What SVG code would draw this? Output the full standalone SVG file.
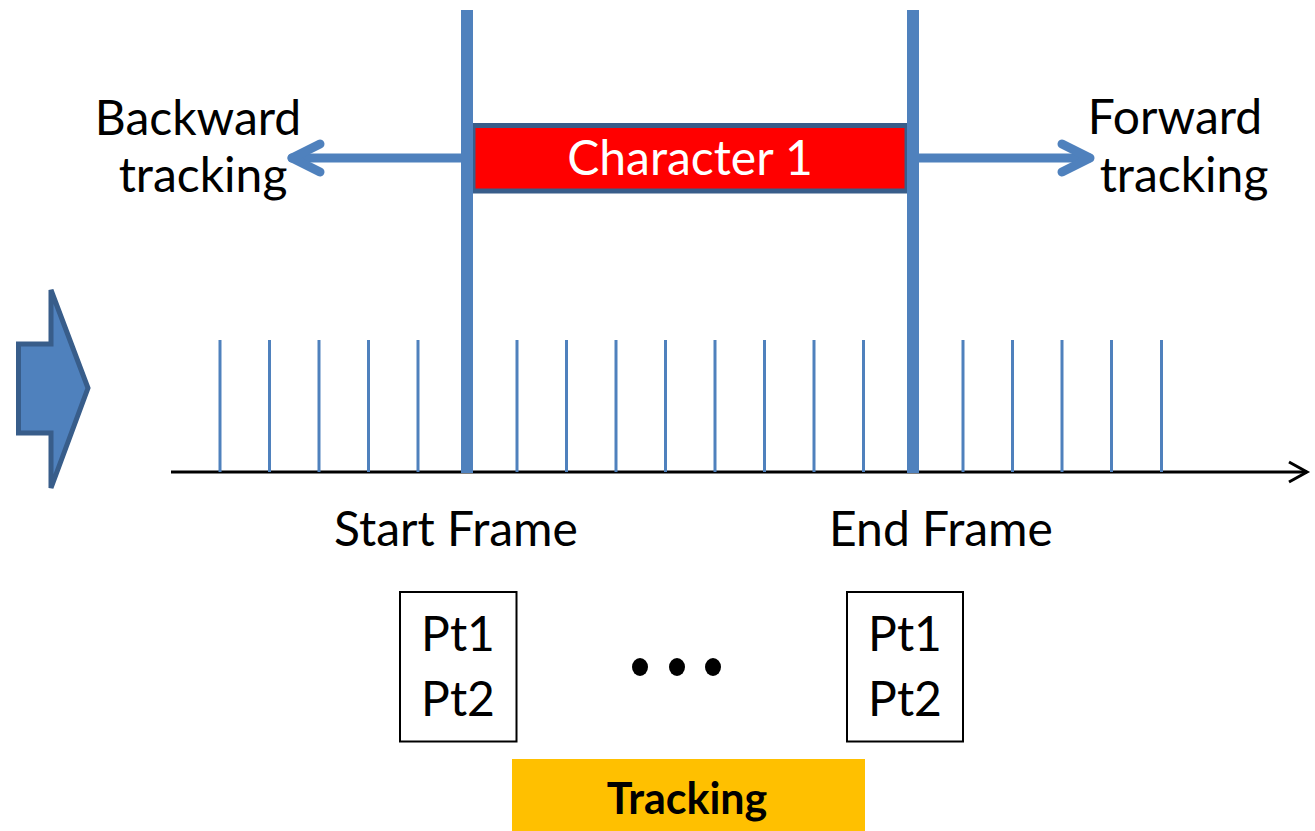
<svg xmlns="http://www.w3.org/2000/svg" width="1315" height="831" viewBox="0 0 1315 831">
<style>
.t{font-family:Lato,"Open Sans","Liberation Sans",sans-serif;font-size:48px;fill:#000;text-anchor:middle}
.tick{stroke:#4f81bd;stroke-width:3}
.bar{stroke:#4f81bd;stroke-width:12}
.arr{stroke:#4f81bd;stroke-width:9;fill:none;stroke-linecap:round;stroke-linejoin:round}
.box{fill:#fff;stroke:#000;stroke-width:2}
</style>
<rect width="1315" height="831" fill="#fff"/>
<g id="big-arrow">
<path d="M18.5,344 H51 V290 L88,388 L51,488 V433 H18.5 Z" fill="#4f81bd" stroke="#385d8a" stroke-width="5" stroke-linejoin="miter"/>
</g>
<g id="timeline">
<line x1="171" y1="472" x2="1307" y2="472" stroke="#000" stroke-width="3"/>
<polyline points="1289,462 1307,472 1289,482" fill="none" stroke="#000" stroke-width="3"/>
<g class="tick">
<line x1="220" y1="340" x2="220" y2="472"/>
<line x1="269.5" y1="340" x2="269.5" y2="472"/>
<line x1="319" y1="340" x2="319" y2="472"/>
<line x1="368.5" y1="340" x2="368.5" y2="472"/>
<line x1="418" y1="340" x2="418" y2="472"/>
<line x1="517" y1="340" x2="517" y2="472"/>
<line x1="566.5" y1="340" x2="566.5" y2="472"/>
<line x1="616" y1="340" x2="616" y2="472"/>
<line x1="665.5" y1="340" x2="665.5" y2="472"/>
<line x1="715" y1="340" x2="715" y2="472"/>
<line x1="764.5" y1="340" x2="764.5" y2="472"/>
<line x1="814" y1="340" x2="814" y2="472"/>
<line x1="863.5" y1="340" x2="863.5" y2="472"/>
<line x1="963" y1="340" x2="963" y2="472"/>
<line x1="1012.5" y1="340" x2="1012.5" y2="472"/>
<line x1="1062" y1="340" x2="1062" y2="472"/>
<line x1="1111.5" y1="340" x2="1111.5" y2="472"/>
<line x1="1161.5" y1="340" x2="1161.5" y2="472"/>
</g>
</g>
<g id="connectors">
<line class="arr" x1="461" y1="158" x2="292" y2="158"/>
<polyline class="arr" points="320,144 292,158 320,172"/>
<line class="arr" x1="919" y1="158" x2="1089" y2="158"/>
<polyline class="arr" points="1062,144 1090,158 1062,172"/>
</g>
<g id="character-1">
<rect x="473" y="125.5" width="434" height="65.5" fill="#ff0000" stroke="#385d8a" stroke-width="5"/>
<text class="t" x="690" y="175" style="fill:#fff">Character 1</text>
</g>
<g id="start-bar"><line class="bar" x1="467" y1="10" x2="467" y2="473"/></g>
<g id="end-bar"><line class="bar" x1="913" y1="10" x2="913" y2="473"/></g>
<g id="backward-label">
<text class="t" x="198" y="135">Backward</text>
<text class="t" x="203" y="192">tracking</text>
</g>
<g id="forward-label">
<text class="t" x="1175" y="134">Forward</text>
<text class="t" x="1184" y="192">tracking</text>
</g>
<g id="start-frame"><text class="t" x="456" y="546">Start Frame</text></g>
<g id="end-frame"><text class="t" x="941" y="546">End Frame</text></g>
<g id="start-points">
<rect class="box" x="400" y="592" width="116.5" height="149.5"/>
<text class="t" x="458" y="651">Pt1</text>
<text class="t" x="458" y="716">Pt2</text>
</g>
<g id="ellipsis">
<ellipse cx="640" cy="667" rx="8" ry="9"/>
<ellipse cx="677" cy="667" rx="8" ry="9"/>
<ellipse cx="713" cy="667" rx="8" ry="9"/>
</g>
<g id="end-points">
<rect class="box" x="847" y="592" width="116" height="149.5"/>
<text class="t" x="905" y="651">Pt1</text>
<text class="t" x="905" y="716">Pt2</text>
</g>
<g id="tracking">
<rect x="512" y="759" width="353" height="72" fill="#ffc000"/>
<text class="t" x="687" y="814" style="font-weight:bold;font-size:43px">Tracking</text>
</g>
</svg>
